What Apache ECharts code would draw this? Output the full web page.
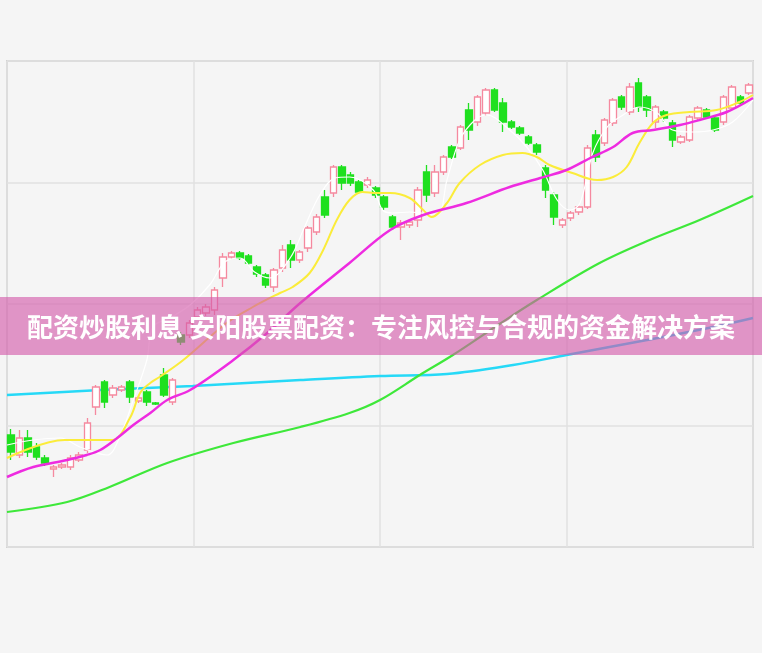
<!DOCTYPE html>
<html>
<head>
<meta charset="utf-8">
<script src="https://cdn.jsdelivr.net/npm/echarts@6/dist/echarts.min.js"></script>
<style>
html,body{margin:0;padding:0;background:#f5f5f5;}
#c{width:762px;height:653px;}
</style>
</head>
<body>
<div id="c"></div>
<script>
// Chart title (banner)
const bannerText = '配资炒股利息 安阳股票配资：专注风控与合规的资金解决方案';

// Candles: [open, close, low, high]
const candles = [
  [11.2, 9.5, 8.7, 11.8], [9.2, 10.9, 8.9, 11.7], [10.9, 9.5, 9.0, 11.7], [10.0, 9.0, 8.7, 10.4],
  [8.9, 8.4, 8.1, 9.2], [7.8, 8.0, 7.0, 8.2], [8.0, 8.2, 7.8, 8.4], [8.0, 8.9, 7.7, 9.2],
  [8.7, 9.2, 8.5, 9.5], [9.7, 12.4, 9.4, 12.9], [14.0, 16.0, 13.2, 16.2], [16.5, 14.5, 13.9, 16.7],
  [15.2, 15.9, 14.9, 16.2], [15.7, 16.0, 15.5, 16.2], [16.5, 15.0, 14.4, 16.7], [14.6, 14.9, 14.4, 15.1],
  [15.5, 14.5, 14.1, 15.7], [14.4, 14.3, 14.2, 14.5], [17.2, 15.2, 15.0, 17.9], [14.5, 16.7, 14.2, 16.9],
  [21.2, 20.5, 20.2, 21.5], [21.2, 22.4, 20.9, 22.7], [23.0, 23.7, 22.7, 24.0], [23.4, 24.0, 23.1, 24.3],
  [23.7, 25.7, 23.2, 26.0], [26.9, 29.0, 26.0, 29.4], [29.0, 29.4, 28.8, 29.6], [29.4, 28.9, 28.7, 29.6],
  [29.1, 28.4, 28.2, 29.3], [28.0, 27.3, 27.0, 28.2], [27.2, 26.2, 25.9, 27.4], [26.0, 27.7, 25.5, 27.9],
  [27.9, 29.7, 27.5, 30.2], [30.2, 28.7, 27.9, 30.7], [28.7, 29.5, 28.4, 29.7], [29.9, 31.9, 29.5, 32.1],
  [31.5, 33.0, 31.2, 33.3], [35.0, 33.2, 32.9, 35.7], [35.4, 38.0, 35.0, 38.2], [38.0, 36.4, 35.7, 38.2],
  [37.2, 36.4, 36.1, 37.5], [36.5, 35.5, 35.3, 36.7], [36.2, 36.7, 35.9, 37.0], [35.9, 35.2, 34.9, 36.1],
  [35.0, 34.0, 33.7, 35.2], [33.0, 32.0, 31.7, 33.2], [32.0, 32.4, 30.7, 32.7], [32.2, 32.5, 31.9, 32.8],
  [32.7, 35.7, 32.0, 36.0], [37.5, 35.2, 34.5, 38.2], [35.4, 37.5, 35.0, 38.2], [37.5, 39.0, 37.2, 39.2],
  [40.0, 39.0, 38.8, 40.2], [39.9, 42.0, 39.7, 42.2], [43.7, 41.7, 40.7, 44.4], [42.5, 45.0, 42.1, 45.2],
  [43.4, 45.7, 43.1, 45.9], [45.7, 43.7, 43.5, 45.9], [44.4, 42.5, 41.5, 44.9], [42.5, 42.0, 41.8, 42.7],
  [41.9, 41.4, 41.2, 42.1], [41.0, 40.4, 40.2, 41.2], [40.2, 39.5, 39.2, 40.4], [37.9, 35.7, 34.9, 38.2],
  [35.2, 33.0, 32.2, 35.5], [32.2, 32.7, 31.9, 32.9], [32.9, 33.4, 32.6, 33.6], [33.5, 34.0, 33.2, 34.2],
  [34.0, 39.9, 33.8, 40.2], [41.2, 39.0, 38.5, 41.7], [40.4, 42.7, 40.1, 42.9], [42.4, 44.7, 42.1, 44.9],
  [45.0, 44.0, 43.7, 45.2], [43.5, 46.0, 43.2, 46.4], [46.4, 44.0, 43.5, 46.9], [45.0, 43.7, 43.0, 45.2],
  [42.5, 44.0, 41.9, 44.2], [43.5, 42.9, 42.5, 43.7], [42.4, 40.7, 40.0, 42.7], [40.5, 41.0, 40.3, 41.2],
  [40.7, 43.0, 40.5, 43.2], [42.9, 43.9, 42.7, 44.1], [43.7, 43.0, 42.8, 43.9], [42.9, 41.7, 41.5, 43.1],
  [42.5, 45.0, 42.2, 45.2], [43.9, 46.0, 43.7, 46.2], [45.0, 44.4, 44.2, 45.2], [45.4, 46.2, 45.2, 46.4]
];
const categories = candles.map((_, i) => 'D' + (i + 1));

// Moving-average lines: [position in bars, price]
const ma5 = [[0,10.2],[3.1,10.7],[6.3,10.9],[8.6,10.0],[11.8,9.2],[13.3,11.0],[14.9,14.7],[16.5,18.7],[17.2,22.0],
  [19.2,22.9],[21.6,24.2],[23.9,26.2],[25.7,28.5],[27.5,28.9],[29.2,27.5],[31.0,26.9],[33.4,28.9],[35.1,32.0],
  [36.9,35.2],[38.7,36.9],[40.4,37.0],[43.2,35.7],[44.3,33.7],[45.5,33.4],[47.5,33.5],[50.7,33.2],[51.9,36.7],
  [53.4,40.7],[55.2,42.7],[56.6,43.2],[59.3,41.7],[61.3,40.0],[63.2,37.7],[64.9,34.7],[66.4,33.7],[67.6,34.4],
  [69.1,39.4],[70.8,42.0],[72.3,43.0],[74.6,44.0],[76.7,43.4],[78.5,41.7],[80.9,41.5],[83.3,41.7],[85.6,42.5],[88,44.7]];
const ma10 = [[0,8.9],[6.8,10.7],[12.4,10.7],[14.5,12.9],[15.7,15.4],[16.9,16.4],[18.0,17.0],[20.8,18.7],[25.9,22.4],
  [29.0,24.0],[32.2,25.4],[33.7,26.0],[35.7,27.4],[37.3,29.7],[38.9,32.7],[40.4,34.7],[41.9,35.5],[43.6,35.4],
  [45.2,35.4],[47.5,34.9],[49.1,33.7],[50.1,33.0],[51.9,34.4],[53.4,36.4],[55.8,38.2],[58.5,39.2],[60.8,39.4],
  [62.5,39.0],[64.0,38.2],[66.7,37.4],[69.6,36.7],[71.5,37.0],[73.1,38.0],[74.6,40.4],[76.2,42.4],[77.8,43.2],
  [80.5,43.5],[83.7,43.7],[86.4,44.5],[88,45.2]];
const ma20 = [[0,7.0],[3.1,8.0],[7.1,8.7],[9.4,9.2],[11.0,9.7],[13.0,10.9],[14.9,12.2],[16.9,13.4],[18.9,14.7],
  [21.6,15.7],[26.7,18.7],[30.7,21.4],[34.6,24.4],[40.4,28.4],[45.2,31.7],[49.1,33.2],[54.2,34.4],[59.3,36.0],
  [62.9,36.9],[66.0,37.7],[68.8,38.9],[71.5,40.0],[73.8,41.4],[76.2,41.7],[79.4,42.2],[81.7,42.7],[84.9,43.5],[88,44.9]];
const ma60 = [[0,3.5],[7.1,4.5],[12.1,6.0],[18.9,8.4],[26.7,10.4],[34.6,12.0],[40.4,13.4],[44.0,14.7],[48.7,17.2],
  [52.6,19.2],[58.1,22.3],[62.5,24.7],[69.9,28.4],[75.8,30.7],[81.7,32.7],[88,35.1]];
const ma120 = [[0,15.2],[11.0,15.7],[21.9,16.1],[34.6,16.7],[44.0,17.1],[51.9,17.3],[59.7,18.2],[66.0,19.2],
  [75.5,20.7],[83.3,22.0],[88,22.9]];

const chart = echarts.init(document.getElementById('c'));
const lineBase = { type: 'line', xAxisIndex: 1, symbol: 'none', smooth: 0.35, z: 3 };
chart.setOption({
  backgroundColor: '#f5f5f5',
  animation: false,
  grid: { left: 7, top: 61, width: 746, height: 486, show: true, borderColor: '#d2d2d2', borderWidth: 2, backgroundColor: '#f5f5f5' },
  xAxis: [
    { type: 'category', data: categories, boundaryGap: true, show: false },
    { type: 'value', min: 0, max: 88, interval: 22, axisLine: { show: false }, axisTick: { show: false },
      axisLabel: { show: false }, splitLine: { show: true, lineStyle: { color: '#e0e0e0', width: 1.5 } } }
  ],
  yAxis: { type: 'value', min: 0, max: 48.6, interval: 12.15, axisLine: { show: false }, axisTick: { show: false },
    axisLabel: { show: false }, splitLine: { show: true, lineStyle: { color: '#e0e0e0', width: 1.5 } } },
  series: [
    Object.assign({}, lineBase, { data: ma120, lineStyle: { color: '#26d9f7', width: 2.5 } }),
    Object.assign({}, lineBase, { data: ma60, lineStyle: { color: '#3ee83a', width: 2.2 } }),
    {
      type: 'candlestick', data: candles, barWidth: 7, z: 4,
      itemStyle: { color: '#ffffff', color0: '#1fe01f', borderColor: '#f5899f', borderColor0: '#1fe01f', borderWidth: 1.3 }
    },
    Object.assign({}, lineBase, { data: ma5, z: 5, lineStyle: { color: '#ffffff', width: 1.2 } }),
    Object.assign({}, lineBase, { data: ma10, z: 5, lineStyle: { color: '#fbec3a', width: 2 } }),
    Object.assign({}, lineBase, { data: ma20, z: 5, lineStyle: { color: '#ee2be0', width: 2.5 } })
  ],
  graphic: [
    { type: 'rect', z: 100, shape: { x: 0, y: 297, width: 762, height: 58 }, style: { fill: 'rgba(212,88,170,0.62)' } },
    { type: 'text', z: 101, x: 381, y: 327, style: { text: bannerText, fill: '#ffffff',
      font: 'bold 26px "Noto Sans CJK SC", sans-serif', textAlign: 'center', textVerticalAlign: 'middle' } }
  ]
});
</script>
</body>
</html>
